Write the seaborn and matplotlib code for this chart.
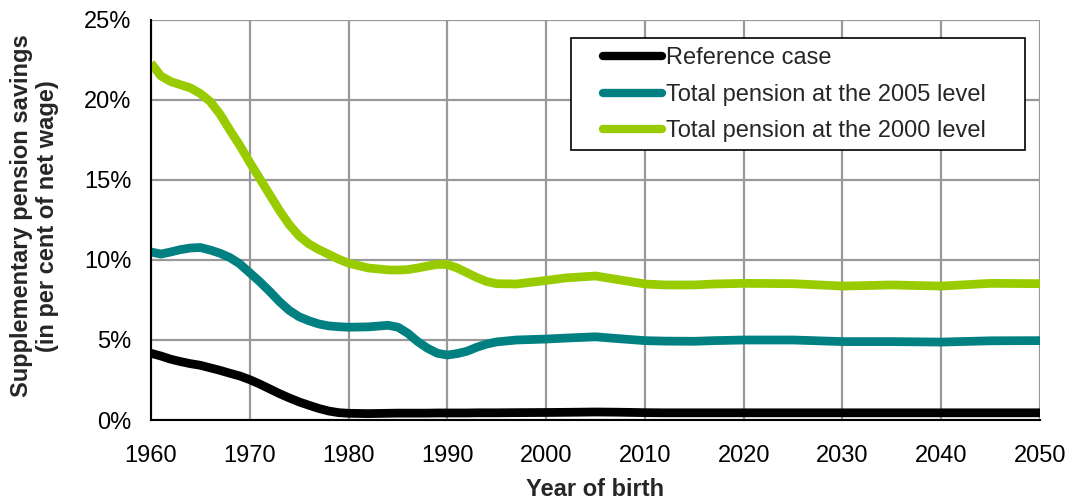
import pandas as pd
import matplotlib
matplotlib.use("Agg")
import matplotlib.pyplot as plt
from matplotlib.patches import Rectangle
from matplotlib.ticker import FuncFormatter
import seaborn as sns


# values (per cent of net wage)
years = [1960, 1961, 1962, 1963, 1964, 1965, 1966, 1967, 1968, 1969,
         1970, 1971, 1972, 1973, 1974, 1975, 1976, 1977, 1978, 1979,
         1980, 1982, 1984, 1985, 1986, 1987, 1988, 1989, 1990, 1991,
         1992, 1993, 1994, 1995, 1997, 2000, 2002, 2005, 2007, 2010,
         2012, 2015, 2017, 2020, 2025, 2030, 2035, 2040, 2045, 2050]

reference_case = [4.17, 4.0, 3.8, 3.65, 3.52, 3.42, 3.26, 3.1, 2.92, 2.75,
                  2.52, 2.25, 1.95, 1.65, 1.38, 1.13, 0.92, 0.72, 0.56, 0.46,
                  0.42, 0.4, 0.42, 0.43, 0.43, 0.43, 0.43, 0.44, 0.44, 0.44,
                  0.44, 0.45, 0.45, 0.45, 0.46, 0.47, 0.48, 0.5, 0.49, 0.46,
                  0.45, 0.45, 0.45, 0.45, 0.45, 0.45, 0.45, 0.45, 0.45, 0.45]

level_2005 = [10.5, 10.37, 10.5, 10.65, 10.75, 10.78, 10.62, 10.42, 10.15, 9.75,
              9.2, 8.65, 8.05, 7.4, 6.85, 6.45, 6.2, 6.0, 5.88, 5.83,
              5.8, 5.82, 5.92, 5.8, 5.42, 4.9, 4.48, 4.17, 4.06, 4.15,
              4.3, 4.55, 4.75, 4.88, 5.0, 5.06, 5.12, 5.2, 5.1, 4.96,
              4.93, 4.92, 4.96, 5.0, 5.0, 4.9, 4.9, 4.87, 4.95, 4.96]

level_2000 = [22.3, 21.5, 21.15, 20.95, 20.75, 20.4, 19.9, 19.1, 18.1, 17.15,
              16.1, 15.1, 14.1, 13.1, 12.2, 11.5, 11.0, 10.65, 10.35, 10.05,
              9.8, 9.5, 9.38, 9.37, 9.4, 9.5, 9.62, 9.72, 9.72, 9.5,
              9.2, 8.9, 8.65, 8.52, 8.5, 8.72, 8.88, 9.0, 8.8, 8.5,
              8.44, 8.44, 8.5, 8.54, 8.52, 8.37, 8.44, 8.37, 8.54, 8.52]

series_names = ["Reference case",
                "Total pension at the 2005 level",
                "Total pension at the 2000 level"]
series_colors = ["#000000", "#008080", "#99CC00"]

x_ticks = list(range(1960, 2051, 10))
y_ticks = [0, 5, 10, 15, 20, 25]


df = pd.concat([
    pd.DataFrame({"year": years, "value": vals, "series": name})
    for name, vals in zip(series_names, [reference_case, level_2005, level_2000])
], ignore_index=True)

sns.set_style("white")
plt.rcParams["font.family"] = ["Liberation Sans", "DejaVu Sans"]

fig = plt.figure(figsize=(10.73, 4.99), dpi=100)
ax = fig.add_axes([0.1407, 0.1583, 0.8286, 0.8017])

sns.lineplot(data=df, x="year", y="value", hue="series", hue_order=series_names,
             palette=series_colors, linewidth=6.3, estimator=None, sort=False,
             ax=ax, legend=True)
for line in ax.get_lines():
    line.set_solid_capstyle("butt")
    line.set_solid_joinstyle("round")

ax.set_xlim(1960, 2050)
ax.set_ylim(0, 25)
ax.set_xticks(x_ticks)
ax.set_yticks(y_ticks)
ax.yaxis.set_major_formatter(FuncFormatter(lambda v, p: f"{v:.0f}%"))

ax.grid(True, color="#999999", linewidth=1.6)
ax.set_axisbelow(True)
for side in ["top", "right"]:
    ax.spines[side].set_visible(False)
for side in ["left", "bottom"]:
    ax.spines[side].set_color("black")
    ax.spines[side].set_linewidth(1.5)
    ax.spines[side].set_zorder(3)

ax.tick_params(axis="both", direction="out", length=5, width=1.2,
               color="black", labelsize=17, labelcolor="black")
ax.tick_params(axis="x", pad=13)
ax.tick_params(axis="y", pad=9)

ax.set_xlabel("Year of birth", fontsize=17, fontweight="bold")
ax.set_ylabel("Supplementary pension savings\n(in per cent of net wage)",
              fontsize=17, fontweight="bold", linespacing=1.15)
ax.yaxis.set_label_coords(-0.104, 0.51)
ax.xaxis.set_label_coords(0.5, -0.145)

# legend box
ax.add_patch(Rectangle((0.4724, 0.675), 0.5106, 0.28, transform=ax.transAxes,
                       facecolor="white", edgecolor="black", linewidth=1.2,
                       zorder=4, clip_on=False))
leg = ax.legend(loc="upper left", bbox_to_anchor=(0.508, 0.932), frameon=False,
                fontsize=17, borderpad=0, borderaxespad=0, handlelength=2.5,
                handletextpad=0.2, labelspacing=0.62, title=None)
leg.set_zorder(5)
for line in leg.get_lines():
    line.set_linewidth(6)
    line.set_solid_capstyle("round")

fig.savefig("out.png", dpi=100)
